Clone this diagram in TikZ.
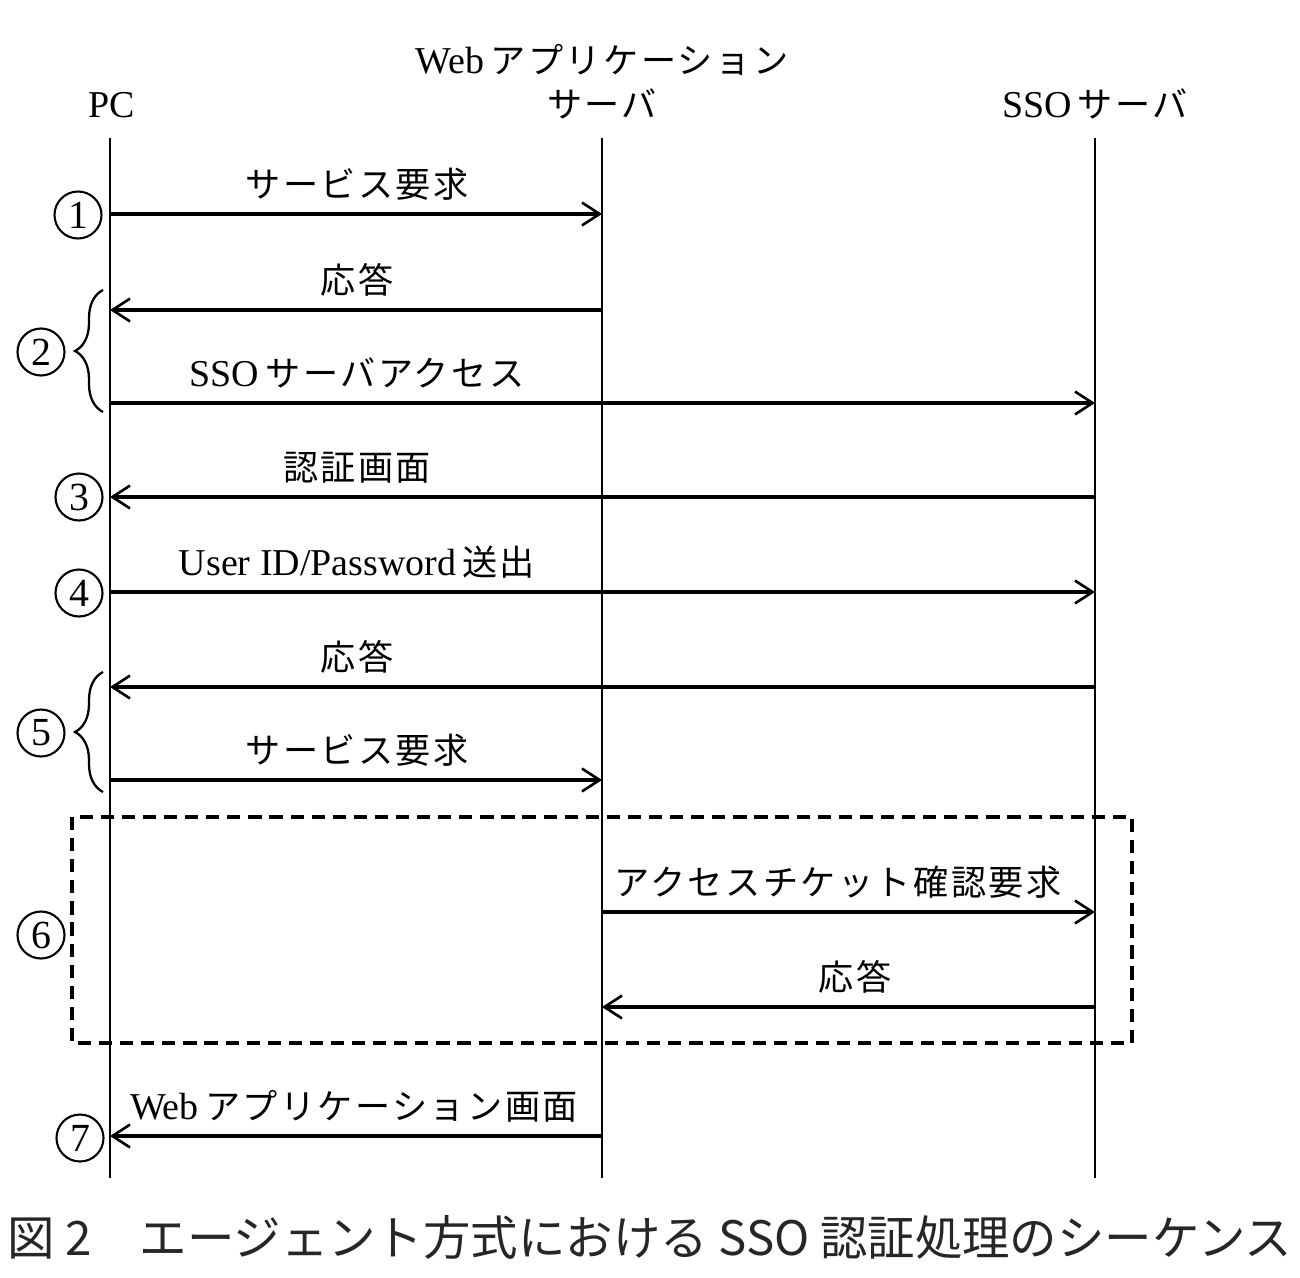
\documentclass[tikz,border=0pt]{standalone}
\usepackage{fontspec}
\setmainfont{Liberation Serif}[Scale=1.08]
\newfontfamily\cjk[LetterSpace=7]{Noto Sans CJK JP}
\newfontfamily\capfont{Noto Sans CJK JP}
\usetikzlibrary{arrows.meta,decorations.pathreplacing,positioning}

\tikzset{
  lbl/.style={anchor=base, inner sep=0pt, font=\fontsize{20}{24}\selectfont},
  msg/.style={line width=1.8pt, -{Straight Barb[length=10pt,width=13pt,line width=1.5pt]}},
  life/.style={line width=1.3pt},
  num/.style={circle, draw, line width=1.2pt, minimum size=0.94cm, inner sep=0pt, font=\fontsize{21}{21}\selectfont},
  grp/.style={line width=1.3pt, decorate, decoration={brace, amplitude=0.56cm}},
}

\begin{document}
\begin{tikzpicture}[x=0.02cm,y=-0.02cm]
\useasboundingbox (0,0) rectangle (1300,1277);
% heads and lifelines
\node[lbl] (pc) at (112,118) {PC};
\node[lbl] (webname) at (602,74) {Web\,{\cjk アプリケーション}};
\node[lbl] (web) at (602,118) {\cjk サーバ};
\node[lbl] (sso) at (1095,118) {SSO\,{\cjk サーバ}};
\coordinate (pcT) at (110,138);   \coordinate (pcB) at (110,1178);
\coordinate (webT) at (602,138);  \coordinate (webB) at (602,1178);
\coordinate (ssoT) at (1095,138); \coordinate (ssoB) at (1095,1178);
\draw[life] (pcT) -- (pcB);
\draw[life] (webT) -- (webB);
\draw[life] (ssoT) -- (ssoB);
% messages
\foreach \y/\a/\b/\lx/\t in {
  214/pcT/webT/357/{\cjk サービス要求},
  310/webT/pcT/357/{\cjk 応答},
  403/pcT/ssoT/357/{SSO\,{\cjk サーバアクセス}},
  497/ssoT/pcT/357/{\cjk 認証画面},
  592/pcT/ssoT/357/{User ID/Password\,{\cjk 送出}},
  687/ssoT/pcT/357/{\cjk 応答},
  780/pcT/webT/357/{\cjk サービス要求},
  912/webT/ssoT/838/{\cjk アクセスチケット確認要求},
  1007/ssoT/webT/855/{\cjk 応答},
  1136/webT/pcT/354/{Web\,{\cjk アプリケーション画面}}}
{
  \draw[msg] (\a |- 0,\y) -- (\b |- 0,\y);
  \node[lbl] at (\lx,\y-17) {\t};
}
% step numbers
\node[num] (s1) at (78,215) {1};
\node[num] (s2) at (41,352) {2};
\node[num] (s3) at (79,497) {3};
\node[num] (s4) at (79,593) {4};
\node[num] (s5) at (41,733) {5};
\node[num] (s6) at (41,935) {6};
\node[num] (s7) at (80,1138) {7};
\draw[grp] (103,412) -- (103,290);
\draw[grp] (103,792) -- (103,672);
% check of the access ticket
\draw[line width=1.8pt, dash pattern=on 7.5pt off 4.5pt] (72,817) rectangle (1132,1043);
% caption
\node[font=\capfont\fontsize{27}{30}\selectfont, text=black!85] (cap) at (650,1237) {図 2\quad エージェント方式における SSO 認証処理のシーケンス};
\end{tikzpicture}
\end{document}
